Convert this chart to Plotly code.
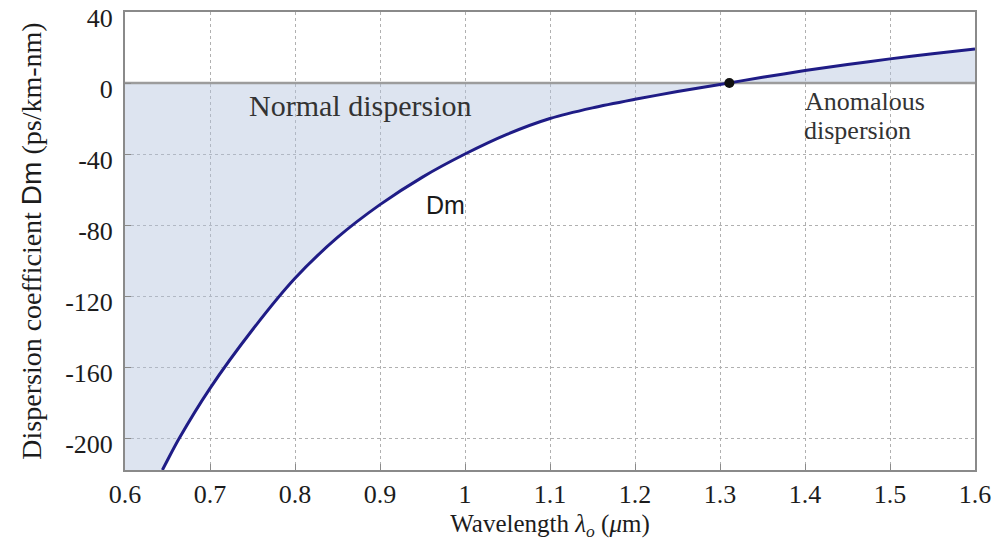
import plotly.graph_objects as go

# ---- data ----
wavelength_um = [0.644, 0.664, 0.70, 0.75, 0.80, 0.85, 0.90, 0.95, 1.00, 1.05,
                 1.10, 1.15, 1.20, 1.25, 1.30, 1.35, 1.40, 1.45, 1.50, 1.55, 1.60]
dispersion_ps_km_nm = [-218, -200, -172, -139, -110, -87, -68.5, -53, -40, -28.8,
                       -20, -14, -9.2, -4.8, -0.8, 3.2, 7.0, 10.4, 13.6, 16.5, 19.2]
zero_dispersion_wl = [1.311]
zero_dispersion_val = [0]

x_ticks = [0.6, 0.7, 0.8, 0.9, 1.0, 1.1, 1.2, 1.3, 1.4, 1.5, 1.6]
x_tick_labels = ["0.6", "0.7", "0.8", "0.9", "1", "1.1", "1.2", "1.3", "1.4", "1.5", "1.6"]
y_ticks = [40, 0, -40, -80, -120, -160, -200]
y_tick_labels = ["40", "0", "-40", "-80", "-120", "-160", "-200"]

X_MIN, X_MAX = 0.6, 1.6
Y_MIN, Y_MAX = -218, 40

SERIF = "Liberation Serif, Times New Roman, serif"
SANS = "Liberation Sans, Arial, sans-serif"
TXT = "#1c1c1c"

fig = go.Figure()

# shaded region between curve and zero line (extended to the left axis edge)
fig.add_trace(go.Scatter(
    x=[X_MIN] + wavelength_um,
    y=[Y_MIN] + dispersion_ps_km_nm,
    mode="lines", line=dict(width=0, color="rgba(0,0,0,0)", shape="spline", smoothing=0.8),
    fill="tozeroy", fillcolor="rgba(180,195,222,0.45)",
    hoverinfo="skip", showlegend=False,
))

# zero reference line (above the shading, below the curve)
fig.add_trace(go.Scatter(
    x=[X_MIN, X_MAX], y=[0, 0], mode="lines",
    line=dict(color="#9c9c9c", width=2.5),
    hoverinfo="skip", showlegend=False,
))

# the dispersion curve
fig.add_trace(go.Scatter(
    x=wavelength_um, y=dispersion_ps_km_nm,
    mode="lines", line=dict(color="#1f1c86", width=3, shape="spline", smoothing=0.8),
    showlegend=False,
))

# zero-dispersion point
fig.add_trace(go.Scatter(
    x=zero_dispersion_wl, y=zero_dispersion_val,
    mode="markers", marker=dict(color="#111111", size=10),
    showlegend=False,
))

fig.update_layout(
    width=998, height=548,
    margin=dict(l=125, r=23, t=12, b=78),
    paper_bgcolor="white", plot_bgcolor="white",
    font=dict(family=SERIF, size=26, color=TXT),
    showlegend=False,
)

fig.update_xaxes(
    range=[X_MIN, X_MAX], tickvals=x_ticks, ticktext=x_tick_labels,
    showgrid=True, gridcolor="#b0b0b0", griddash="dot", gridwidth=1,
    showline=True, linecolor="#8a8a8a", linewidth=2, mirror=True,
    ticks="inside", ticklen=6, tickcolor="#8a8a8a",
    zeroline=False, ticklabeloverflow="allow",
    tickfont=dict(family=SERIF, size=26, color=TXT),
    ticklabelstandoff=0,
    title=dict(text="Wavelength <i>λ<sub>o</sub></i> (<i>μ</i>m)",
               font=dict(family=SERIF, size=25, color=TXT), standoff=6),
    automargin=False,
)
fig.update_yaxes(
    range=[Y_MIN, Y_MAX], tickvals=y_ticks, ticktext=y_tick_labels,
    showgrid=True, gridcolor="#b0b0b0", griddash="dot", gridwidth=1,
    showline=True, linecolor="#8a8a8a", linewidth=2, mirror=True,
    ticks="inside", ticklen=6, tickcolor="#8a8a8a",
    zeroline=False, ticklabeloverflow="allow",
    tickfont=dict(family=SERIF, size=26, color=TXT),
    ticklabelstandoff=5, ticklabelshift=6,
    title=dict(text="Dispersion coefficient <span style='font-family:Liberation Sans'>Dm</span> (ps/km-nm)",
               font=dict(family=SERIF, size=28, color=TXT), standoff=15),
    automargin=False,
)

fig.add_annotation(x=0.876, y=-12.4, xref="x", yref="y", text="Normal dispersion",
                   showarrow=False, font=dict(family=SERIF, size=30, color="#333333"))
fig.add_annotation(x=1.47, y=-10.2, xref="x", yref="y", text="Anomalous",
                   showarrow=False, font=dict(family=SERIF, size=26, color="#333333"))
fig.add_annotation(x=1.462, y=-27, xref="x", yref="y", text="dispersion",
                   showarrow=False, font=dict(family=SERIF, size=26, color="#333333"))
fig.add_annotation(x=0.9765, y=-68.7, xref="x", yref="y", text="Dm",
                   showarrow=False, font=dict(family=SANS, size=25, color="#1a1a1a"))

# remove the default 8px page margin so the 998x548 figure fills the window exactly
fig.write_html("out.html", config={"displayModeBar": False},
               post_script="document.body.style.margin='0';")
